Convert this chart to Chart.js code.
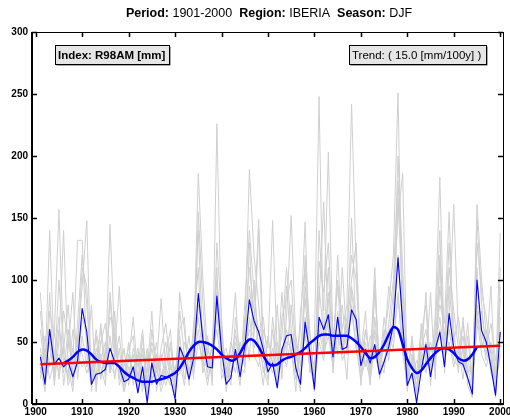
<!DOCTYPE html>
<html>
<head>
<meta charset="utf-8">
<script src="https://cdn.jsdelivr.net/npm/chart.js@4.4.1/dist/chart.umd.min.js"></script>
<style>
  html, body { margin: 0; padding: 0; background: #fff; }
  #wrap { width: 510px; height: 420px; position: relative; }
</style>
</head>
<body>
<div id="wrap"><canvas id="chart"></canvas></div>
<script>
/* global Chart */

// years 1901..2000 (category positions only)
const firstYear = 1901;
const years = Array.from({ length: 100 }, (_, i) => firstYear + i);
const xTicks = [1900, 1910, 1920, 1930, 1940, 1950, 1960, 1970, 1980, 1990, 2000];
const yTicks = [0, 50, 100, 150, 200, 250, 300];

// regional index (thin blue)
const regional = [
  38, 16, 60, 32, 37, 30, 34, 22, 34, 77,
  58, 16, 24, 25, 28, 45, 34, 30, 18, 20,
  30, 9, 30, 1, 33, 16, 23, 22, 21, 4,
  46, 37, 20, 37, 89, 52, 30, 29, 87, 44,
  16, 21, 44, 22, 46, 84, 67, 58, 44, 26,
  33, 13, 44, 55, 56, 29, 16, 66, 42, 12,
  70, 60, 72, 38, 70, 44, 46, 76, 68, 31,
  44, 33, 48, 24, 34, 46, 64, 118, 66, 15,
  25, 1, 27, 48, 22, 44, 58, 30, 73, 45,
  34, 32, 21, 8, 100, 59, 50, 30, 7, 58,
];

// smoothed index (thick blue), 1906..1995
const smoothStart = 1906;
const smoothed = [
  33, 35, 38, 42, 44,
  43, 40, 36, 34, 33, 33, 33, 30, 26, 23,
  21, 19, 18, 18, 18, 19, 20, 21, 23, 25,
  29, 35, 42, 47, 50, 50, 49, 47, 44, 40,
  37, 35, 36, 41, 48, 52, 51, 46, 39, 33,
  31, 32, 35, 37, 38, 40, 42, 45, 49, 52,
  55, 56, 56, 55, 55, 55, 55, 53, 50, 46,
  41, 37, 38, 42, 48, 56, 62, 60, 48, 36,
  29, 25, 27, 32, 37, 41, 44, 45, 44, 41,
  37, 35, 36, 40, 46,
];

// linear trend (red)
const trendYears = [1901, 2000];
const trendValues = [32, 47];

// station series (grey)
const station1 = [
  60, 25, 140, 35, 70, 15, 45, 90, 20, 55,
  30, 80, 10, 50, 65, 25, 40, 95, 15, 35,
  70, 20, 45, 10, 60, 30, 85, 25, 50, 12,
  75, 40, 20, 65, 110, 30, 55, 15, 226, 60,
  25, 45, 90, 20, 70, 35, 100, 40, 15, 55,
  30, 80, 20, 95, 45, 10, 75, 110, 25, 50,
  248, 40, 85, 30, 120, 55, 20, 95, 70, 15,
  60, 35, 100, 20, 55, 80, 120, 251, 45, 10,
  40, 5, 65, 30, 90, 20, 115, 45, 130, 60,
  25, 70, 15, 5, 150, 80, 40, 95, 10, 85,
];
const station2 = [
  30, 10, 75, 55, 157, 40, 20, 60, 45, 110,
  95, 15, 35, 60, 20, 90, 45, 30, 10, 25,
  40, 15, 55, 5, 35, 20, 45, 65, 30, 8,
  90, 60, 25, 45, 186, 100, 40, 20, 130, 70,
  10, 35, 60, 25, 80, 140, 90, 55, 70, 30,
  45, 15, 70, 85, 100, 40, 20, 95, 55, 20,
  115, 90, 130, 45, 100, 60, 80, 242, 110, 40,
  75, 20, 90, 35, 25, 65, 100, 180, 95, 25,
  50, 10, 35, 90, 25, 70, 183, 40, 110, 75,
  45, 20, 55, 15, 130, 90, 70, 40, 5, 110,
];
const station3 = [
  45, 20, 90, 15, 50, 140, 30, 10, 65, 120,
  80, 25, 55, 20, 40, 70, 60, 15, 30, 45,
  55, 10, 40, 25, 75, 10, 35, 50, 20, 5,
  60, 70, 15, 55, 140, 45, 25, 50, 110, 20,
  30, 15, 70, 40, 55, 189, 120, 80, 40, 20,
  60, 25, 90, 40, 80, 30, 10, 120, 60, 15,
  140, 75, 203, 50, 95, 45, 70, 120, 100, 30,
  50, 15, 70, 30, 45, 95, 80, 200, 110, 20,
  35, 10, 55, 80, 15, 60, 140, 25, 95, 50,
  70, 40, 30, 10, 161, 100, 55, 25, 15, 95,
];
const station4 = [
  90, 35, 60, 25, 100, 45, 80, 20, 50, 95,
  148, 10, 45, 30, 15, 85, 35, 55, 20, 40,
  25, 45, 15, 30, 50, 35, 20, 40, 60, 15,
  45, 30, 55, 20, 155, 80, 30, 45, 100, 55,
  20, 50, 35, 15, 60, 110, 75, 45, 30, 15,
  70, 35, 55, 110, 60, 25, 45, 85, 40, 10,
  95, 55, 110, 25, 75, 40, 60, 100, 130, 25,
  40, 30, 110, 20, 35, 50, 90, 150, 186, 15,
  55, 20, 45, 60, 35, 40, 120, 30, 70, 161,
  55, 30, 65, 20, 110, 45, 60, 30, 20, 138,
];
const station5 = [
  20, 55, 30, 40, 25, 75, 50, 35, 132, 132,
  40, 20, 60, 35, 50, 25, 75, 20, 45, 15,
  30, 25, 20, 45, 15, 40, 25, 15, 30, 20,
  25, 50, 35, 30, 80, 60, 20, 35, 70, 40,
  45, 25, 40, 30, 25, 95, 60, 149, 50, 35,
  25, 50, 30, 60, 40, 55, 30, 70, 35, 25,
  80, 163, 60, 35, 55, 80, 40, 90, 60, 50,
  30, 55, 40, 25, 60, 35, 75, 120, 60, 30,
  20, 35, 30, 45, 20, 55, 80, 65, 155, 40,
  35, 55, 25, 30, 80, 60, 35, 50, 25, 70,
];
const station6 = [
  75, 30, 50, 20, 60, 35, 25, 45, 30, 70,
  55, 40, 20, 65, 30, 145, 50, 25, 35, 20,
  45, 30, 60, 15, 25, 50, 15, 35, 45, 25,
  55, 20, 40, 35, 60, 25, 45, 30, 90, 50,
  35, 20, 55, 45, 35, 70, 40, 30, 60, 45,
  148, 40, 25, 70, 152, 50, 20, 60, 45, 30,
  70, 45, 90, 60, 40, 110, 50, 80, 45, 35,
  60, 40, 55, 30, 70, 45, 60, 166, 80, 40,
  45, 25, 60, 35, 50, 30, 95, 55, 60, 45,
  40, 65, 35, 20, 60, 75, 45, 65, 35, 55,
];
const station7 = [
  40, 15, 35, 60, 20, 50, 15, 30, 55, 40,
  25, 35, 15, 40, 25, 55, 20, 45, 10, 30,
  20, 35, 10, 40, 20, 30, 10, 25, 15, 30,
  35, 15, 45, 25, 50, 35, 15, 40, 60, 30,
  15, 40, 25, 50, 30, 130, 45, 60, 25, 40,
  35, 20, 45, 30, 55, 35, 60, 147, 30, 20,
  60, 40, 55, 30, 70, 35, 45, 150, 55, 30,
  45, 25, 60, 40, 30, 55, 45, 90, 50, 25,
  30, 15, 40, 25, 45, 35, 60, 35, 50, 30,
  45, 30, 20, 15, 70, 40, 30, 45, 15, 40,
];
const station8 = [
  25, 45, 20, 35, 40, 25, 60, 15, 40, 30,
  35, 15, 40, 20, 45, 30, 25, 35, 20, 50,
  15, 40, 30, 20, 45, 25, 40, 20, 35, 10,
  40, 30, 20, 45, 70, 40, 35, 25, 80, 45,
  30, 20, 50, 35, 40, 60, 55, 140, 35, 25,
  40, 30, 35, 50, 45, 20, 40, 55, 30, 15,
  50, 35, 70, 45, 55, 40, 65, 75, 45, 20,
  35, 20, 45, 30, 50, 40, 55, 85, 40, 20,
  25, 10, 35, 50, 30, 45, 70, 40, 60, 35,
  30, 45, 20, 10, 75, 50, 40, 35, 20, 60,
];
const stations = [station1, station2, station3, station4, station5, station6, station7, station8];

const FONT = "'Liberation Sans', Arial, sans-serif";

function toPoints(xs, ys) {
  return ys.map((y, i) => ({ x: xs[i], y }));
}

const smoothYears = smoothed.map((_, i) => smoothStart + i);

const datasets = [
  {
    data: toPoints(trendYears, trendValues),
    borderColor: "#ff0000", borderWidth: 2.5, pointRadius: 0, order: 0,
  },
  {
    data: toPoints(smoothYears, smoothed),
    borderColor: "#0000ff", borderWidth: 2.5, pointRadius: 0, tension: 0.3, order: 1,
  },
  {
    data: toPoints(years, regional),
    borderColor: "#0000ff", borderWidth: 1.1, pointRadius: 0, order: 2,
  },
];
stations.forEach((s) => {
  datasets.push({
    data: toPoints(years, s),
    borderColor: "#cfcfcf", borderWidth: 1, pointRadius: 0, order: 3,
  });
});

// frame with inward ticks, title and the two labelled boxes
const decorations = {
  id: "decorations",
  afterDatasetsDraw(chart) {
    const { ctx, chartArea: a, scales } = chart;
    ctx.save();
    ctx.strokeStyle = "#000";
    ctx.lineWidth = 1;
    ctx.strokeRect(a.left + 0.5, a.top + 0.5, a.right - a.left, a.bottom - a.top);
    ctx.lineWidth = 1.5;
    ctx.beginPath();
    xTicks.forEach((v) => {
      const x = Math.round(scales.x.getPixelForValue(v)) + 0.5;
      ctx.moveTo(x, a.top); ctx.lineTo(x, a.top + 5);
      ctx.moveTo(x, a.bottom); ctx.lineTo(x, a.bottom - 5);
    });
    yTicks.forEach((v) => {
      const y = Math.round(scales.y.getPixelForValue(v)) + 0.5;
      ctx.moveTo(a.left, y); ctx.lineTo(a.left + 5, y);
      ctx.moveTo(a.right, y); ctx.lineTo(a.right - 5, y);
    });
    ctx.stroke();
    ctx.lineWidth = 2;
    ctx.beginPath();
    ctx.moveTo(a.left, a.bottom); ctx.lineTo(a.right, a.bottom);
    ctx.moveTo(a.left, a.top); ctx.lineTo(a.left, a.bottom);
    ctx.stroke();

    // title with mixed weights
    const parts = [
      ["Period:", true], [" 1901-2000  ", false],
      ["Region:", true], [" IBERIA  ", false],
      ["Season:", true], [" DJF", false],
    ];
    const fontFor = (b) => `${b ? "bold " : ""}12.5px ${FONT}`;
    let total = 0;
    parts.forEach(([t, b]) => { ctx.font = fontFor(b); total += ctx.measureText(t).width; });
    let tx = 269 - total / 2;
    ctx.fillStyle = "#000";
    ctx.textBaseline = "middle";
    ctx.textAlign = "left";
    parts.forEach(([t, b]) => {
      ctx.font = fontFor(b);
      ctx.fillText(t, tx, 14);
      tx += ctx.measureText(t).width;
    });

    // label boxes
    const box = (x, y, w, h, text, bold) => {
      ctx.fillStyle = "#555";
      ctx.fillRect(x + 1.5, y + 1.5, w, h);
      ctx.fillStyle = "#e6e6e6";
      ctx.fillRect(x, y, w, h);
      ctx.lineWidth = 1;
      ctx.strokeStyle = "#000";
      ctx.strokeRect(x + 0.5, y + 0.5, w, h);
      ctx.fillStyle = "#000";
      ctx.font = `${bold ? "bold " : ""}11.5px ${FONT}`;
      ctx.fillText(text, x + 3, y + h / 2 + 1);
    };
    box(55, 45, 114, 19, "Index: R98AM [mm]", true);
    box(349, 45, 137, 19, "Trend: ( 15.0 [mm/100y] )", false);
    ctx.restore();
  },
};

new Chart(document.getElementById("chart"), {
  type: "line",
  data: { datasets },
  plugins: [decorations],
  options: {
    responsive: true,
    maintainAspectRatio: false,
    animation: false,
    layout: { padding: { left: 0, right: 7, top: 32, bottom: 0 } },
    plugins: { legend: { display: false }, tooltip: { enabled: false }, title: { display: false } },
    elements: { line: { borderJoinStyle: "round" } },
    scales: {
      x: {
        type: "linear",
        min: 1899.2,
        max: 2000.6,
        afterBuildTicks: (s) => { s.ticks = xTicks.map((v) => ({ value: v })); },
        afterFit: (s) => { s.height = 16; s.paddingLeft = 0; s.paddingRight = 0; },
        grid: { display: false, drawTicks: false },
        border: { display: false },
        ticks: {
          padding: 2,
          color: "#000",
          font: { family: FONT, size: 10, weight: "bold" },
          maxRotation: 0,
          autoSkip: false,
          callback: (v) => String(v),
        },
      },
      y: {
        min: 0,
        max: 300,
        afterBuildTicks: (s) => { s.ticks = yTicks.map((v) => ({ value: v })); },
        afterFit: (s) => { s.width = 32; s.paddingTop = 0; s.paddingBottom = 0; },
        grid: { display: false, drawTicks: false },
        border: { display: false },
        ticks: {
          padding: 4,
          color: "#000",
          font: { family: FONT, size: 10, weight: "bold" },
          callback: (v) => String(v),
        },
      },
    },
  },
});
</script>
</body>
</html>
